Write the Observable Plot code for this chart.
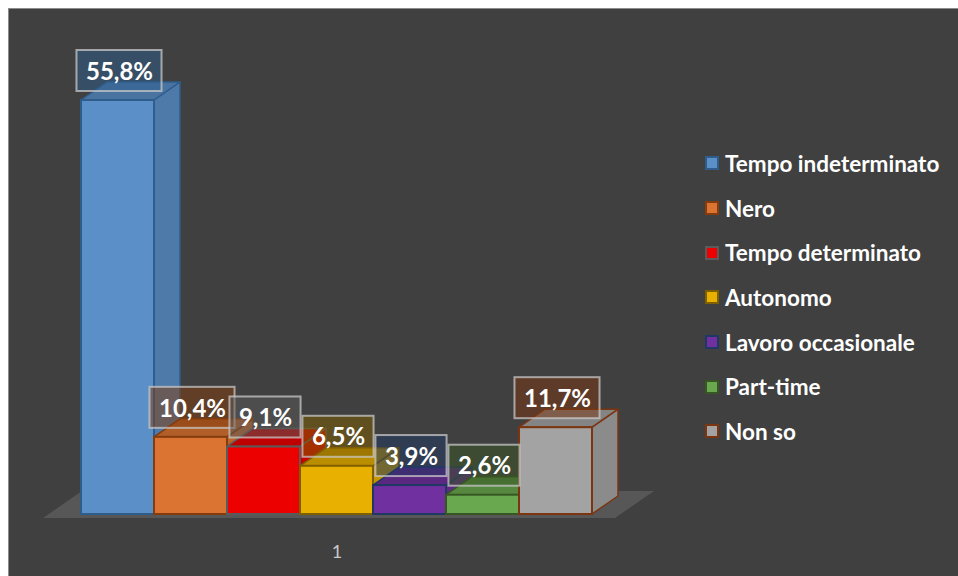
<!DOCTYPE html>
<html><head><meta charset="utf-8">
<script src="https://cdn.jsdelivr.net/npm/d3@7"></script>
<script src="https://cdn.jsdelivr.net/npm/@observablehq/plot@0.6"></script>
<style>
html,body{margin:0;padding:0;background:#fff;width:958px;height:576px;overflow:hidden;}
#frame{position:absolute;left:8px;top:8px;width:970px;height:590px;background:#404040;border:1px solid #8c8c8c;box-sizing:border-box;}
#chart{position:absolute;left:0;top:0;}
#legend{position:absolute;left:705px;top:141px;font-family:Lato,"Open Sans",sans-serif;font-weight:700;font-size:22.5px;color:#fff;}
.row{height:44.7px;display:flex;align-items:center;white-space:nowrap;}
.sw{width:10px;height:10px;border:2px solid;margin-right:6px;flex:none;}
</style></head><body>
<div id="frame"></div>
<div id="chart"></div>
<div id="legend"></div>
<script>
const categories = ["Tempo indeterminato","Nero","Tempo determinato","Autonomo","Lavoro occasionale","Part-time","Non so"];
const values = [55.8, 10.4, 9.1, 6.5, 3.9, 2.6, 11.7];
const valueLabels = ["55,8%","10,4%","9,1%","6,5%","3,9%","2,6%","11,7%"];
const fillColors = ["#5b8fc7","#db7432","#ec0000","#e8b000","#7030a0","#6aa84f","#a3a3a3"];
const strokeColors = ["#2e5d8c","#843c0c","#5a5a5a","#7f6000","#203864","#375623","#7b3510"];
const categoryTick = ["1"];

const W = 958, H = 576;
const n = categories.length;
const mL = 81, mR = W - 592, mB = 62;
const pxPerX = (W - mL - mR) / n;          // px per bar
const yMax = 60;
const pxPerY = 414 / 55.8;
const mT = H - mB - yMax * pxPerY;
const dx = 26 / pxPerX, dy = 18 / pxPerY;  // 3D depth in data units

const bars = categories.map((c, i) => ({
  i, c, v: values[i], label: valueLabels[i],
  fill: fillColors[i], stroke: strokeColors[i],
  side: d3.color(fillColors[i]).darker(0.45).formatHex(),
  top: d3.color(fillColors[i]).darker(0.6).formatHex()
}));

const sides = bars.flatMap(b => [
  {i: b.i, x: b.i + 1, y1: 0, y2: b.v, fill: b.side, stroke: b.stroke},
  {i: b.i, x: b.i + 1 + dx, y1: dy, y2: b.v + dy, fill: b.side, stroke: b.stroke}
]);
const tops = bars.flatMap(b => [
  {i: b.i, y: b.v, x1: b.i, x2: b.i + 1, fill: b.top, stroke: b.stroke},
  {i: b.i, y: b.v + dy, x1: b.i + dx, x2: b.i + 1 + dx, fill: b.top, stroke: b.stroke}
]);
const floorFront = -4 / pxPerY, floorBack = 23 / pxPerY;
const floorSlant = (floorBack - floorFront) * pxPerY * (dx * pxPerX / (dy * pxPerY)) / pxPerX;
const floor = [
  {y: floorFront, x1: -0.52, x2: n + 0.315},
  {y: floorBack, x1: -0.52 + floorSlant, x2: n + 0.315 + floorSlant}
];

// label boxes
const labelSize = 24;
const ctx = document.createElement("canvas").getContext("2d");
ctx.font = `700 ${labelSize}px Lato`;
const boxGap = 9 / pxPerY, boxH = 41 / pxPerY;
const boxes = bars.map(b => {
  const w = ctx.measureText(b.label).width + 18;
  const cx = b.i + 0.5 + 1.5 / pxPerX;
  return {...b, x1: cx - w / 2 / pxPerX, x2: cx + w / 2 / pxPerX,
          y1: b.v + boxGap, y2: b.v + boxGap + boxH, cx, cy: b.v + boxGap + boxH / 2};
});

const chart = Plot.plot({
  width: W, height: H,
  marginLeft: mL, marginRight: mR, marginTop: mT, marginBottom: mB,
  x: {domain: [0, n], axis: null},
  y: {domain: [0, yMax], axis: null},
  color: {type: "identity"},
  style: {background: "transparent", overflow: "visible"},
  marks: [
    Plot.areaX(floor, {y: "y", x1: "x1", x2: "x2", fill: "#575757"}),
    Plot.areaY(sides, {x: "x", y1: "y1", y2: "y2", z: "i", fill: "fill", stroke: "stroke", strokeWidth: 1.5, strokeLinejoin: "round"}),
    Plot.areaX(tops, {y: "y", x1: "x1", x2: "x2", z: "i", fill: "fill", stroke: "stroke", strokeWidth: 1.5, strokeLinejoin: "round"}),
    Plot.rect(bars, {x1: d => d.i, x2: d => d.i + 1, y1: 0, y2: "v", fill: "fill", stroke: "stroke", strokeWidth: 2}),
    Plot.rect(boxes, {x1: "x1", x2: "x2", y1: "y1", y2: "y2", fill: "stroke", fillOpacity: 0.5, stroke: "#c8c8c8", strokeOpacity: 0.75, strokeWidth: 2}),
    Plot.text(boxes, {x: "cx", y: "cy", text: "label", fill: "white", fontSize: labelSize, fontWeight: 700, fontFamily: "Lato", dy: 1}),
    Plot.text(categoryTick, {x: n / 2, y: -38 / pxPerY, text: d => d, fill: "#c8c8c8", fontSize: 18, fontFamily: "Lato"})
  ]
});
document.getElementById("chart").appendChild(chart);

const legend = document.getElementById("legend");
bars.forEach(b => {
  const row = document.createElement("div");
  row.className = "row";
  const sw = document.createElement("span");
  sw.className = "sw";
  sw.style.background = b.fill;
  sw.style.borderColor = b.stroke;
  const t = document.createElement("span");
  t.textContent = b.c;
  row.appendChild(sw); row.appendChild(t);
  legend.appendChild(row);
});
</script>
</body></html>
